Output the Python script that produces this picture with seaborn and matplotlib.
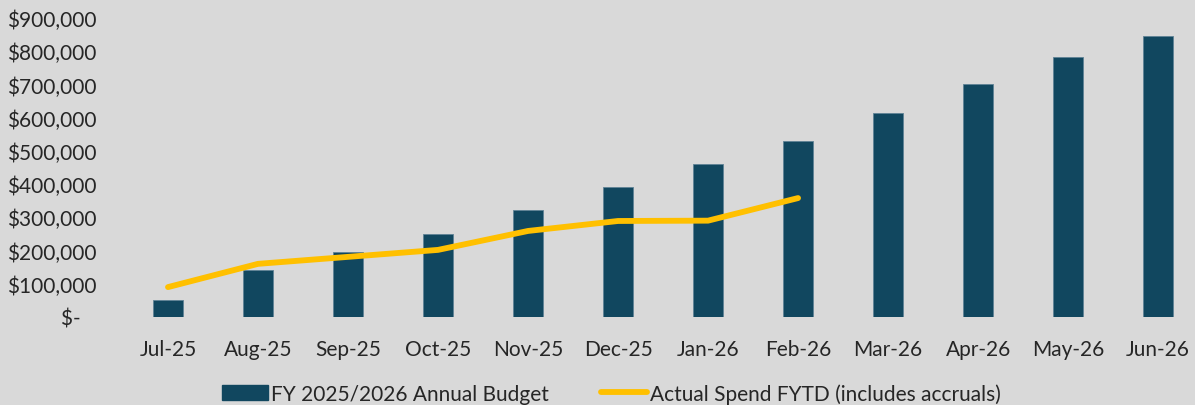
import numpy as np
import pandas as pd
import matplotlib
matplotlib.use("Agg")
import matplotlib.pyplot as plt
import seaborn as sns
from matplotlib.patches import Patch
from matplotlib.lines import Line2D
from matplotlib.ticker import FuncFormatter

# ----------------------------------------------------------
# DATA
# ----------------------------------------------------------
months = ["Jul-25", "Aug-25", "Sep-25", "Oct-25", "Nov-25", "Dec-25",
          "Jan-26", "Feb-26", "Mar-26", "Apr-26", "May-26", "Jun-26"]
budget = [51000, 141000, 196000, 250000, 322000, 391000,
          461000, 531000, 614000, 702000, 783000, 846000]
actual = [90000, 160000, 181000, 202000, 259000, 289000, 290000, 358000]

BG = "#D9D9D9"
BAR = "#11475F"
GOLD = "#FFC000"
TXT = "#262626"

sns.set_theme(style="white")
plt.rcParams["font.family"] = ["Lato", "DejaVu Sans"]

df = pd.DataFrame({"month": months, "budget": budget})
df_act = pd.DataFrame({"pos": np.arange(len(actual)), "actual": actual})

fig = plt.figure(figsize=(11.95, 4.06), dpi=100, facecolor=BG)
ax = fig.add_axes([123 / 1195, 88 / 406, (1195 - 123) / 1195, 299 / 406])
ax.set_facecolor(BG)

sns.barplot(data=df, x="month", y="budget", color=BAR, width=0.33,
            saturation=1, edgecolor="#5f8296", linewidth=0.6, ax=ax)
sns.lineplot(data=df_act, x="pos", y="actual", color=GOLD, linewidth=4.2,
             ax=ax, solid_capstyle="round")

ax.set_xlim(-0.5, 11.41)
ax.set_ylim(0, 900000)
ax.set_yticks(np.arange(0, 900001, 100000))


def money(v, _):
    if v == 0:
        return "$-   "
    return f"${v:,.0f}"


ax.yaxis.set_major_formatter(FuncFormatter(money))
ax.tick_params(axis="y", length=0, pad=19, labelsize=15, labelcolor=TXT)
ax.tick_params(axis="x", length=0, pad=15.5, labelsize=15, labelcolor=TXT)
ax.set_xlabel("")
ax.set_ylabel("")
for s in ax.spines.values():
    s.set_visible(False)

handles = [
    Patch(facecolor=BAR, edgecolor=BAR, label="FY 2025/2026 Annual Budget"),
    Line2D([0], [0], color=GOLD, linewidth=4.2,
           label="Actual Spend FYTD (includes accruals)"),
]
fig.legend(handles=handles, loc="lower center", bbox_to_anchor=(0.512, -0.043),
           ncol=2, frameon=False, fontsize=15, handlelength=2.2,
           handleheight=0.7, handletextpad=0.15, columnspacing=2.5,
           labelcolor=TXT)

fig.savefig("out.png", dpi=100, facecolor=BG)
